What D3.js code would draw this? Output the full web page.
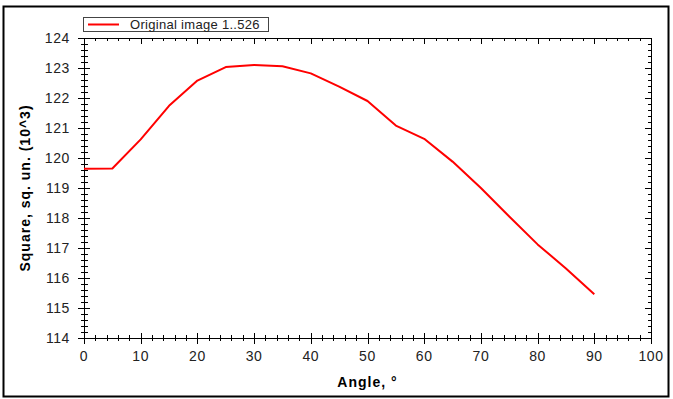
<!DOCTYPE html>
<html>
<head>
    <meta charset="utf-8">
    <title>Square vs Angle</title>
    <script src="https://cdnjs.cloudflare.com/ajax/libs/d3/7.8.5/d3.min.js"></script>
</head>
<body style="margin:0;background:#fff">
<style>
    text { font-family: "Liberation Sans", Arial, sans-serif; }
</style>
<script>
    // data
    const angles = [0, 5, 10, 15, 20, 25, 30, 35, 40, 45, 50, 55, 60, 65, 70, 75, 80, 85, 90];
    const squares = [119.64, 119.65, 120.62, 121.74, 122.58, 123.03, 123.10, 123.06, 122.82, 122.38, 121.90, 121.08, 120.64,
        119.88, 119.0, 118.05, 117.12, 116.32, 115.46];
    const xTicks = d3.range(0, 101, 10);
    const yTicks = d3.range(114, 125, 1);
    const seriesName = "Original image 1..526";

    const W = 673, H = 399;
    const svg = d3.select("body").append("svg").attr("width", W).attr("height", H);

    // outer frame
    svg.append("rect").attr("x", 3.5).attr("y", 6.5).attr("width", 665).attr("height", 390)
        .attr("fill", "none").attr("stroke", "#000").attr("stroke-width", 2);

    const pLeft = 84, pRight = 651, pTop = 38, pBottom = 338;
    const x = d3.scaleLinear().domain([0, 100]).range([pLeft, pRight]);
    const y = d3.scaleLinear().domain([114, 124]).range([pBottom, pTop]);

    const g = svg.append("g").attr("shape-rendering", "crispEdges");

    // axis lines
    g.append("line").attr("x1", pLeft).attr("x2", pRight).attr("y1", pBottom + 0.5).attr("y2", pBottom + 0.5).attr("stroke", "#000");
    g.append("line").attr("x1", pLeft).attr("x2", pRight).attr("y1", pTop + 0.5).attr("y2", pTop + 0.5).attr("stroke", "#000");
    g.append("line").attr("x1", pLeft + 0.5).attr("x2", pLeft + 0.5).attr("y1", pTop).attr("y2", pBottom + 1).attr("stroke", "#000");
    g.append("line").attr("x1", pRight + 0.5).attr("x2", pRight + 0.5).attr("y1", pTop).attr("y2", pBottom + 1).attr("stroke", "#000");

    // ticks
    const xMinor = d3.range(0, 101, 2);
    const yMinor = d3.range(0, 51).map(i => 114 + i * 0.2);
    xMinor.forEach(v => {
        const major = v % 10 === 0;
        const px = Math.round(x(v)) + 0.5;
        g.append("line").attr("x1", px).attr("x2", px)
            .attr("y1", pBottom - (major ? 5 : 3)).attr("y2", pBottom + (major ? 6 : 3)).attr("stroke", "#000");
        g.append("line").attr("x1", px).attr("x2", px)
            .attr("y1", pTop).attr("y2", pTop + (major ? 6 : 3)).attr("stroke", "#000");
    });
    yMinor.forEach((v, i) => {
        const major = i % 5 === 0;
        const py = Math.round(y(v)) + 0.5;
        g.append("line").attr("x1", pLeft - (major ? 6 : 3)).attr("x2", pLeft + (major ? 6 : 4))
            .attr("y1", py).attr("y2", py).attr("stroke", "#000");
        g.append("line").attr("x1", pRight - (major ? 6 : 3)).attr("x2", pRight)
            .attr("y1", py).attr("y2", py).attr("stroke", "#000");
    });

    // tick labels
    svg.selectAll(".xl").data(xTicks).enter().append("text")
        .attr("x", d => x(d)).attr("y", 361).attr("text-anchor", "middle")
        .attr("font-size", 14).attr("letter-spacing", 0.6).attr("fill", "#222").text(d => d);
    svg.selectAll(".yl").data(yTicks).enter().append("text")
        .attr("x", 70).attr("y", d => y(d) + 5).attr("text-anchor", "end")
        .attr("font-size", 14).attr("letter-spacing", 0.6).attr("fill", "#222").text(d => d);

    // axis titles
    svg.append("text").attr("x", (pLeft + pRight) / 2).attr("y", 387).attr("text-anchor", "middle")
        .attr("font-size", 14).attr("letter-spacing", 1).attr("font-weight", "bold").text("Angle, °");
    svg.append("text").attr("transform", `translate(30,${(pTop + pBottom) / 2}) rotate(-90)`)
        .attr("text-anchor", "middle").attr("font-size", 14).attr("letter-spacing", 1).attr("font-weight", "bold")
        .text("Square, sq. un. (10^3)");

    // series
    const line = d3.line().x(d => x(d[0])).y(d => y(d[1]));
    svg.append("path").datum(d3.zip(angles, squares)).attr("d", line)
        .attr("fill", "none").attr("stroke", "#ff0000").attr("stroke-width", 2).attr("stroke-linejoin", "round");

    // legend
    const lg = svg.append("g");
    lg.append("rect").attr("x", 83.5).attr("y", 17.5).attr("width", 185).attr("height", 14)
        .attr("fill", "#fff").attr("stroke", "#444").attr("shape-rendering", "crispEdges");
    lg.append("line").attr("x1", 88).attr("x2", 119).attr("y1", 24.5).attr("y2", 24.5)
        .attr("stroke", "#ff0000").attr("stroke-width", 2);
    lg.append("text").attr("x", 130).attr("y", 29).attr("font-size", 13).attr("letter-spacing", 0.3)
        .attr("fill", "#222").text(seriesName);
</script>
</body>
</html>
